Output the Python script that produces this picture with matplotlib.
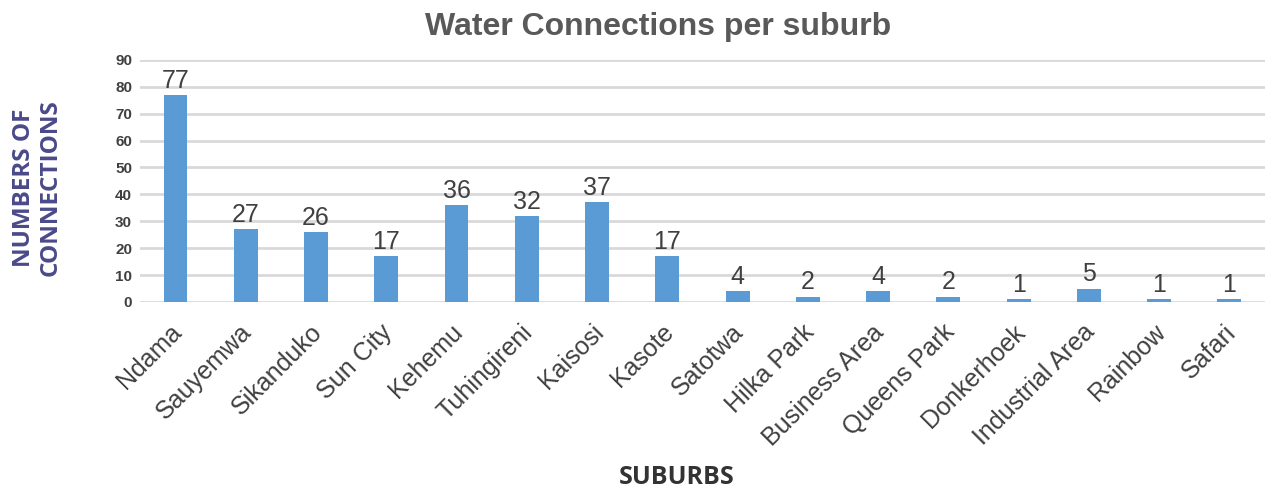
import numpy as np
import matplotlib
matplotlib.use("Agg")
import matplotlib.pyplot as plt
import matplotlib.transforms as mtransforms

# data
suburbs = ["Ndama", "Sauyemwa", "Sikanduko", "Sun City", "Kehemu", "Tuhingireni",
           "Kaisosi", "Kasote", "Satotwa", "Hilka Park", "Business Area",
           "Queens Park", "Donkerhoek", "Industrial Area", "Rainbow", "Safari"]
connections = [77, 27, 26, 17, 36, 32, 37, 17, 4, 2, 4, 2, 1, 5, 1, 1]
yticks = [0, 10, 20, 30, 40, 50, 60, 70, 80, 90]

plt.rcParams['font.family'] = ['Liberation Sans', 'DejaVu Sans']

fig = plt.figure(figsize=(12.76, 4.91), dpi=100)
ax = fig.add_axes([0.110, 0.385, 0.881, 0.493])

x = np.arange(len(suburbs))
bars = ax.bar(x, connections, width=0.34, color='#5b9bd5', zorder=3)

for xi, v in zip(x, connections):
    ax.text(xi, v + 0.8, str(v), ha='center', va='bottom', fontsize=18,
            color='#404040', zorder=4)

ax.set_xlim(-0.5, len(suburbs) - 0.5)
ax.set_ylim(0, 90)
ax.set_yticks(yticks)
ax.set_yticklabels([str(t) for t in yticks], fontsize=11, fontweight='bold', color='#404040')
ax.set_xticks(x)
ax.set_xticklabels(suburbs, rotation=45, ha='right', rotation_mode='anchor',
                   fontsize=18, color='#404040')
ax.tick_params(axis='both', length=0)
ax.tick_params(axis='y', pad=6)
ax.tick_params(axis='x', pad=13)
# nudge the rotated labels a little to the left
shift = mtransforms.ScaledTranslation(-6 / 100, 0, fig.dpi_scale_trans)
for lbl in ax.get_xticklabels():
    lbl.set_transform(lbl.get_transform() + shift)

ax.grid(axis='y', color='#d9d9d9', linewidth=2, zorder=0)
for s in ax.spines.values():
    s.set_visible(False)

fig.text(0.516, 0.945, "Water Connections per suburb", ha='center', va='center',
         fontsize=23, fontweight='bold', color='#595959')
fig.text(0.029, 0.617, "NUMBERS OF\nCONNECTIONS", rotation=90, ha='center', va='center',
         fontsize=17.5, fontweight='bold', color='#4a4a8a', family='Open Sans',
         linespacing=1.15)
fig.text(0.53, 0.028, "SUBURBS", ha='center', va='center', fontsize=18,
         fontweight='bold', color='#333333', family='Open Sans')

fig.savefig("out.png", dpi=100)
